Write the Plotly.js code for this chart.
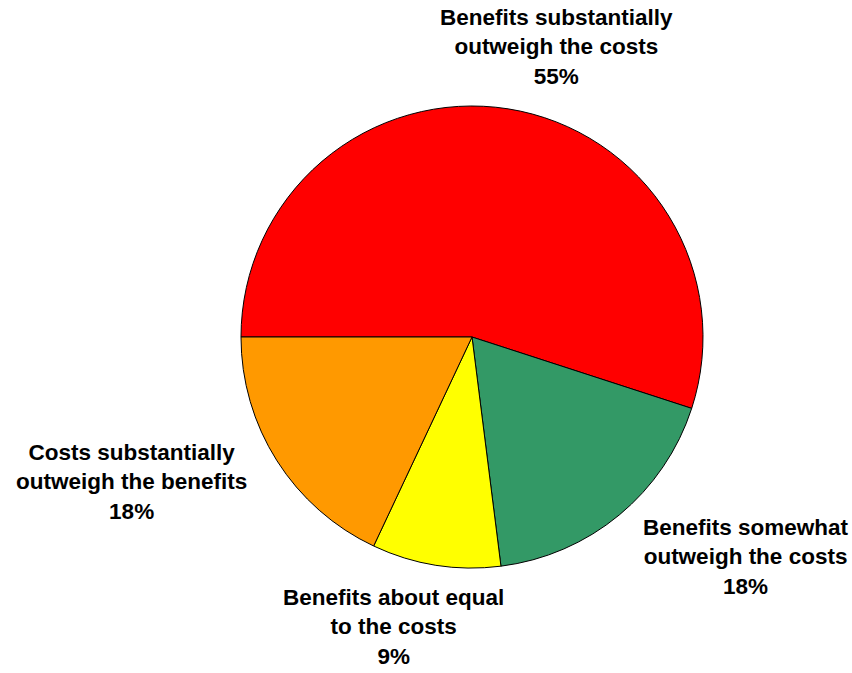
<!DOCTYPE html>
<html>
<head>
<meta charset="utf-8">
<script src="https://cdn.plot.ly/plotly-3.0.1.min.js"></script>
<style>html,body{margin:0;padding:0;background:#fff;}#chart{width:852px;height:673px;}</style>
</head>
<body>
<div id="chart"></div>
<script>
const categories = [
  'Benefits substantially<br>outweigh the costs',
  'Benefits somewhat<br>outweigh the costs',
  'Benefits about equal<br>to the costs',
  'Costs substantially<br>outweigh the benefits'
];
const values = [55, 18, 9, 18];
const colors = ['#FF0000', '#339966', '#FFFF00', '#FF9900'];
const labelX = [0.6537, 0.8756, 0.4624, 0.1538];
const labelY = [0.930, 0.1724, 0.0684, 0.2838];

const W = 852, H = 673;
const cx = 472, cy = 337, r = 231;

const trace = {
  type: 'pie',
  labels: categories,
  values: values,
  sort: false,
  direction: 'clockwise',
  rotation: 270,
  textinfo: 'none',
  hoverinfo: 'label+percent',
  marker: { colors: colors, line: { color: '#000000', width: 1 } },
  domain: {
    x: [(cx - r) / W, (cx + r) / W],
    y: [1 - (cy + r) / H, 1 - (cy - r) / H]
  }
};

const annotations = categories.map((c, i) => ({
  text: c + '<br>' + values[i] + '%',
  x: labelX[i], y: labelY[i],
  xref: 'paper', yref: 'paper',
  xanchor: 'center', yanchor: 'middle',
  showarrow: false,
  align: 'center',
  font: { family: 'Liberation Sans, Arial, sans-serif', size: 22.5, color: '#000000', weight: 'bold' }
}));

const layout = {
  width: W, height: H,
  margin: { l: 0, r: 0, t: 0, b: 0 },
  showlegend: false,
  paper_bgcolor: '#ffffff',
  annotations: annotations
};

Plotly.newPlot('chart', [trace], layout, { displayModeBar: false, staticPlot: true });
</script>
</body>
</html>
